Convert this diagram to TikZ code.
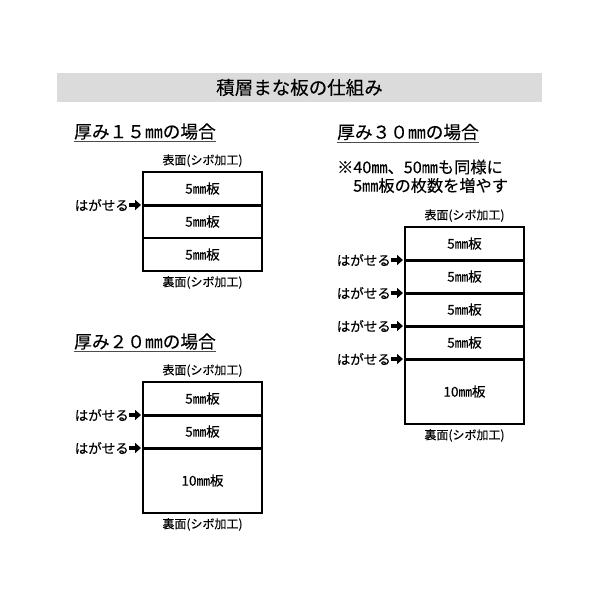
\documentclass[tikz,border=0pt]{standalone}
\usepackage{fontspec}
\setmainfont{Noto Sans CJK JP}[FakeBold=0.15]
\usetikzlibrary{positioning,arrows.meta}
\tikzset{
  board/.style={
    rectangle,
    draw=black, line width=1.3pt,
    minimum width=119pt,
    minimum height=#1,
    inner sep=0pt, outer sep=0pt,
    font=\fontsize{13.5}{13.5}\selectfont},
  board/.default=33pt,
  seam/.style={line width=3pt},
  peel/.style={inner sep=0pt, font=\fontsize{13.5}{13.5}\selectfont},
  peelarrow/.style={line width=4pt, -{Triangle[length=6pt,width=10pt]}, shorten >=2pt},
  face/.style={inner sep=0pt, font=\fontsize{12}{12}\selectfont},
  heading/.style={anchor=west, inner sep=0pt, font=\fontsize{17.7}{17.7}\selectfont},
  rule/.style={draw=black!70, line width=1pt},
  note/.style={anchor=west, inner sep=0pt, font=\fontsize{16.2}{16.2}\selectfont},
  titlebar/.style={
    fill=black!14,
    minimum width=485pt, minimum height=29pt,
    inner sep=0pt,
    font=\fontsize{18.5}{18.5}\selectfont},
}

\begin{document}
\begin{tikzpicture}[x=1pt, y=-1pt]
  \useasboundingbox[fill=white] (0,0) rectangle (600,600);
  \node[titlebar] (title) at (299.5,87.5) {積層まな板の仕組み};

  %% 15mm
  \node[heading] (h15) at (74,131.5) {厚み１５㎜の場合};
  \draw[rule] ([yshift=-2pt]h15.south west) -- ([yshift=-2pt]h15.south east);
  \node[board] (a1) at (202.5,188.5) {5㎜板};
  \node[board, below=0pt of a1] (a2) {5㎜板};
  \node[board, below=0pt of a2] (a3) {5㎜板};
  \node[face, above=5pt of a1] (atop) {表面(シボ加工)};
  \node[face, below=5pt of a3] (abot) {裏面(シボ加工)};
  \draw[seam] (a1.south west) -- (a1.south east);
  \node[peel, left=14pt of a1.south west] (pa1) {はがせる};
  \draw[peelarrow] (pa1) -- (a1.south west);

  %% 20mm
  \node[heading] (h20) at (74,341.5) {厚み２０㎜の場合};
  \draw[rule] ([yshift=-2pt]h20.south west) -- ([yshift=-2pt]h20.south east);
  \node[board] (b1) at (202.5,398.5) {5㎜板};
  \node[board, below=0pt of b1] (b2) {5㎜板};
  \node[board=65pt, below=0pt of b2] (b3) {10㎜板};
  \node[face, above=5pt of b1] (btop) {表面(シボ加工)};
  \node[face, below=5pt of b3] (bbot) {裏面(シボ加工)};
  \foreach \i in {1,2} {
    \draw[seam] (b\i.south west) -- (b\i.south east);
    \node[peel, left=14pt of b\i.south west] (pb\i) {はがせる};
    \draw[peelarrow] (pb\i) -- (b\i.south west);
  }

  %% 30mm
  \node[heading] (h30) at (337,132) {厚み３０㎜の場合};
  \draw[rule] ([yshift=-2pt]h30.south west) -- ([yshift=-2pt]h30.south east);
  \node[note] (n1) at (337,167) {※40㎜、50㎜も同様に};
  \node[note] (n2) at (353,185.5) {5㎜板の枚数を増やす};
  \node[board] (c1) at (464.5,243.5) {5㎜板};
  \node[board, below=0pt of c1] (c2) {5㎜板};
  \node[board, below=0pt of c2] (c3) {5㎜板};
  \node[board, below=0pt of c3] (c4) {5㎜板};
  \node[board=65pt, below=0pt of c4] (c5) {10㎜板};
  \node[face, above=5pt of c1] (ctop) {表面(シボ加工)};
  \node[face, below=5pt of c5] (cbot) {裏面(シボ加工)};
  \foreach \i in {1,...,4} {
    \draw[seam] (c\i.south west) -- (c\i.south east);
    \node[peel, left=14pt of c\i.south west] (pc\i) {はがせる};
    \draw[peelarrow] (pc\i) -- (c\i.south west);
  }
\end{tikzpicture}
\end{document}
